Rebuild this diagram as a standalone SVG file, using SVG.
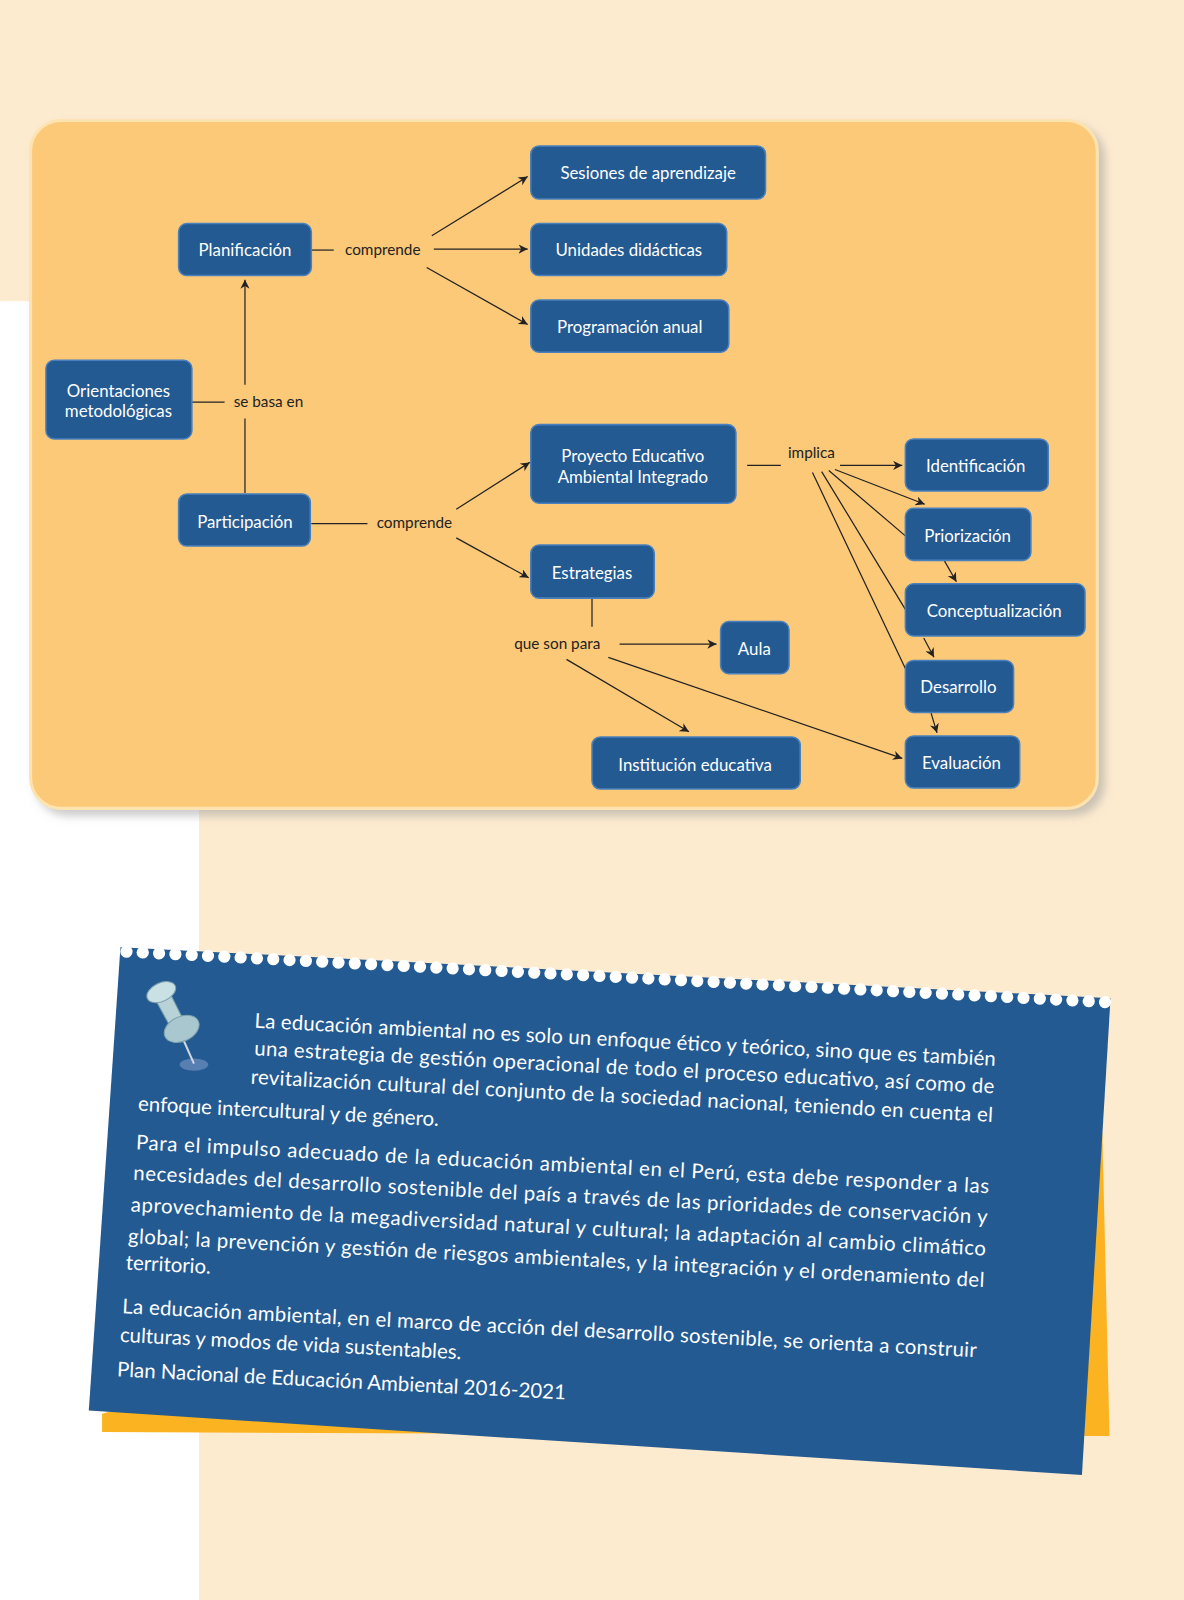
<svg xmlns="http://www.w3.org/2000/svg" width="1184" height="1600" viewBox="0 0 1184 1600">
<defs>
<style>
.n rect{fill:#245a92;stroke:#4a80bd;stroke-width:1.5}
.n text{fill:#fff;font-family:Lato,"Liberation Sans",sans-serif;font-size:16.5px;text-anchor:middle}
.lb{fill:#222;font-family:Lato,"Liberation Sans",sans-serif;font-size:15px;text-anchor:middle}
.c line{stroke:#222;stroke-width:1.2}
.a{marker-end:url(#ar)}
.p{fill:#fff;font-family:Lato,"Liberation Sans",sans-serif;font-size:20px}
</style>
<marker id="ar" viewBox="0 0 10 10" refX="10" refY="5" markerWidth="9" markerHeight="9" orient="auto" markerUnits="userSpaceOnUse"><path d="M0,0L10,5L0,10L3,5z" fill="#222"/></marker>
<filter id="sh" x="-5%" y="-5%" width="110%" height="115%"><feDropShadow dx="6" dy="6" stdDeviation="4" flood-color="#999" flood-opacity="0.5"/></filter>
</defs>
<g transform="scale(1.0207)">
<rect width="1160" height="1568" fill="#fdebd0"/>
<rect x="0" y="295" width="195" height="1273" fill="#fff"/>
<rect x="30" y="118" width="1045" height="674" rx="30" fill="#fbc978" stroke="#fde3b0" stroke-width="3" filter="url(#sh)"/>
<g class="c">
<line x1="305" y1="245" x2="327" y2="245"/>
<line class="a" x1="423" y1="231" x2="517" y2="173"/>
<line class="a" x1="425" y1="244" x2="517" y2="244"/>
<line class="a" x1="418" y1="262" x2="517" y2="318"/>
<line x1="188" y1="394" x2="220" y2="394"/>
<line class="a" x1="240" y1="377" x2="240" y2="274"/>
<line x1="240" y1="410" x2="240" y2="483"/>
<line x1="305" y1="513" x2="360" y2="513"/>
<line class="a" x1="447" y1="499" x2="519" y2="453"/>
<line class="a" x1="447" y1="527" x2="518" y2="566"/>
<line x1="732" y1="456" x2="765" y2="456"/>
<line class="a" x1="823" y1="456" x2="884" y2="456"/>
<line class="a" x1="818" y1="460" x2="906" y2="494"/>
<line x1="812" y1="461" x2="887" y2="525"/>
<line x1="805" y1="462" x2="887" y2="597"/>
<line x1="796" y1="463" x2="887" y2="655"/>
<line class="a" x1="925" y1="549" x2="937" y2="570"/>
<line class="a" x1="905" y1="625" x2="915" y2="644"/>
<line class="a" x1="912" y1="698" x2="918" y2="718"/>
<line x1="580" y1="586" x2="580" y2="614"/>
<line class="a" x1="607" y1="631" x2="702" y2="631"/>
<line class="a" x1="555" y1="646" x2="675" y2="717"/>
<line class="a" x1="596" y1="644" x2="884" y2="743"/>
</g>
<text class="lb" x="375" y="250">comprende</text>
<text class="lb" x="263" y="399">se basa en</text>
<text class="lb" x="406" y="517">comprende</text>
<text class="lb" x="795" y="449">implica</text>
<text class="lb" x="546" y="636">que son para</text>
<g class="n" id="sesiones"><rect x="520" y="143" width="230" height="52" rx="8"/><text x="635" y="175">Sesiones de aprendizaje</text></g>
<g class="n" id="unidades"><rect x="520" y="219" width="192" height="51" rx="8"/><text x="616" y="251">Unidades didácticas</text></g>
<g class="n" id="programacion"><rect x="520" y="294" width="194" height="51" rx="8"/><text x="617" y="326">Programación anual</text></g>
<g class="n" id="planificacion"><rect x="175" y="219" width="130" height="51" rx="8"/><text x="240" y="251">Planificación</text></g>
<g class="n" id="orientaciones"><rect x="45" y="353" width="143" height="77" rx="8"/><text x="116" y="389">Orientaciones</text><text x="116" y="409">metodológicas</text></g>
<g class="n" id="participacion"><rect x="175" y="484" width="129" height="51" rx="8"/><text x="240" y="517">Participación</text></g>
<g class="n" id="proyecto"><rect x="520" y="416" width="201" height="77" rx="8"/><text x="620" y="453">Proyecto Educativo</text><text x="620" y="473">Ambiental Integrado</text></g>
<g class="n" id="estrategias"><rect x="520" y="534" width="121" height="52" rx="8"/><text x="580" y="567">Estrategias</text></g>
<g class="n" id="aula"><rect x="706" y="609" width="67" height="51" rx="8"/><text x="739" y="642">Aula</text></g>
<g class="n" id="institucion"><rect x="580" y="722" width="204" height="51" rx="8"/><text x="681" y="755">Institución educativa</text></g>
<g class="n" id="identificacion"><rect x="887" y="430" width="140" height="51" rx="8"/><text x="956" y="462">Identificación</text></g>
<g class="n" id="priorizacion"><rect x="887" y="498" width="123" height="51" rx="8"/><text x="948" y="531">Priorización</text></g>
<g class="n" id="conceptualizacion"><rect x="887" y="572" width="176" height="51" rx="8"/><text x="974" y="604">Conceptualización</text></g>
<g class="n" id="desarrollo"><rect x="887" y="647" width="106" height="51" rx="8"/><text x="939" y="679">Desarrollo</text></g>
<g class="n" id="evaluacion"><rect x="887" y="721" width="112" height="51" rx="8"/><text x="942" y="753">Evaluación</text></g>
<polygon points="100,1385 1080,1110 1087,1407 100,1403" fill="#fbb321"/>
<polygon points="118,928 1088,978 1060,1445 87,1382" fill="#245a92"/>
<g transform="translate(118,930) rotate(2.95)">
<g fill="#fff">
<circle cx="6" cy="2" r="6"/><circle cx="22" cy="2" r="6"/><circle cx="38" cy="2" r="6"/><circle cx="54" cy="2" r="6"/><circle cx="70" cy="2" r="6"/><circle cx="86" cy="2" r="6"/><circle cx="102" cy="2" r="6"/><circle cx="118" cy="2" r="6"/><circle cx="134" cy="2" r="6"/><circle cx="150" cy="2" r="6"/><circle cx="166" cy="2" r="6"/><circle cx="182" cy="2" r="6"/><circle cx="198" cy="2" r="6"/><circle cx="214" cy="2" r="6"/><circle cx="230" cy="2" r="6"/><circle cx="246" cy="2" r="6"/><circle cx="262" cy="2" r="6"/><circle cx="278" cy="2" r="6"/><circle cx="294" cy="2" r="6"/><circle cx="310" cy="2" r="6"/><circle cx="326" cy="2" r="6"/><circle cx="342" cy="2" r="6"/><circle cx="358" cy="2" r="6"/><circle cx="374" cy="2" r="6"/><circle cx="390" cy="2" r="6"/><circle cx="406" cy="2" r="6"/><circle cx="422" cy="2" r="6"/><circle cx="438" cy="2" r="6"/><circle cx="454" cy="2" r="6"/><circle cx="470" cy="2" r="6"/><circle cx="486" cy="2" r="6"/><circle cx="502" cy="2" r="6"/><circle cx="518" cy="2" r="6"/><circle cx="534" cy="2" r="6"/><circle cx="550" cy="2" r="6"/><circle cx="566" cy="2" r="6"/><circle cx="582" cy="2" r="6"/><circle cx="598" cy="2" r="6"/><circle cx="614" cy="2" r="6"/><circle cx="630" cy="2" r="6"/><circle cx="646" cy="2" r="6"/><circle cx="662" cy="2" r="6"/><circle cx="678" cy="2" r="6"/><circle cx="694" cy="2" r="6"/><circle cx="710" cy="2" r="6"/><circle cx="726" cy="2" r="6"/><circle cx="742" cy="2" r="6"/><circle cx="758" cy="2" r="6"/><circle cx="774" cy="2" r="6"/><circle cx="790" cy="2" r="6"/><circle cx="806" cy="2" r="6"/><circle cx="822" cy="2" r="6"/><circle cx="838" cy="2" r="6"/><circle cx="854" cy="2" r="6"/><circle cx="870" cy="2" r="6"/><circle cx="886" cy="2" r="6"/><circle cx="902" cy="2" r="6"/><circle cx="918" cy="2" r="6"/><circle cx="934" cy="2" r="6"/><circle cx="950" cy="2" r="6"/><circle cx="966" cy="2" r="6"/>
</g>
<text class="p" x="135" y="70" textLength="727" lengthAdjust="spacing">La educación ambiental no es solo un enfoque ético y teórico, sino que es también</text>
<text class="p" x="136" y="97" textLength="726" lengthAdjust="spacing">una estrategia de gestión operacional de todo el proceso educativo, así como de</text>
<text class="p" x="134" y="125" textLength="728" lengthAdjust="spacing">revitalización cultural del conjunto de la sociedad nacional, teniendo en cuenta el</text>
<text class="p" x="25" y="157">enfoque intercultural y de género.</text>
<text class="p" x="25" y="195" textLength="837" lengthAdjust="spacing">Para el impulso adecuado de la educación ambiental en el Perú, esta debe responder a las</text>
<text class="p" x="24" y="225" textLength="838" lengthAdjust="spacing">necesidades del desarrollo sostenible del país a través de las prioridades de conservación y</text>
<text class="p" x="23" y="256" textLength="839" lengthAdjust="spacing">aprovechamiento de la megadiversidad natural y cultural; la adaptación al cambio climático</text>
<text class="p" x="22" y="287" textLength="840" lengthAdjust="spacing">global; la prevención y gestión de riesgos ambientales, y la integración y el ordenamiento del</text>
<text class="p" x="21" y="313">territorio.</text>
<text class="p" x="20" y="356" textLength="838" lengthAdjust="spacing">La educación ambiental, en el marco de acción del desarrollo sostenible, se orienta a construir</text>
<text class="p" x="19" y="384">culturas y modos de vida sustentables.</text>
<text class="p" x="18" y="418">Plan Nacional de Educación Ambiental 2016-2021</text>
</g>
<g id="pin">
<ellipse cx="190" cy="1043" rx="14" ry="6" fill="#6d8fbf" opacity="0.7"/>
<line x1="178" y1="1015" x2="190" y2="1042" stroke="#cfd8e0" stroke-width="2"/>
<path d="M150,975 L165,970 L180,1000 L168,1008 Z" fill="#b8d2d8" stroke="#7fa2ad"/>
<ellipse cx="158" cy="972" rx="15" ry="9" transform="rotate(-25 158 972)" fill="#c9e0e4" stroke="#7fa2ad"/>
<ellipse cx="178" cy="1008" rx="18" ry="12" transform="rotate(-25 178 1008)" fill="#a9c7cf" stroke="#7fa2ad"/>
</g>
</g>
</svg>
